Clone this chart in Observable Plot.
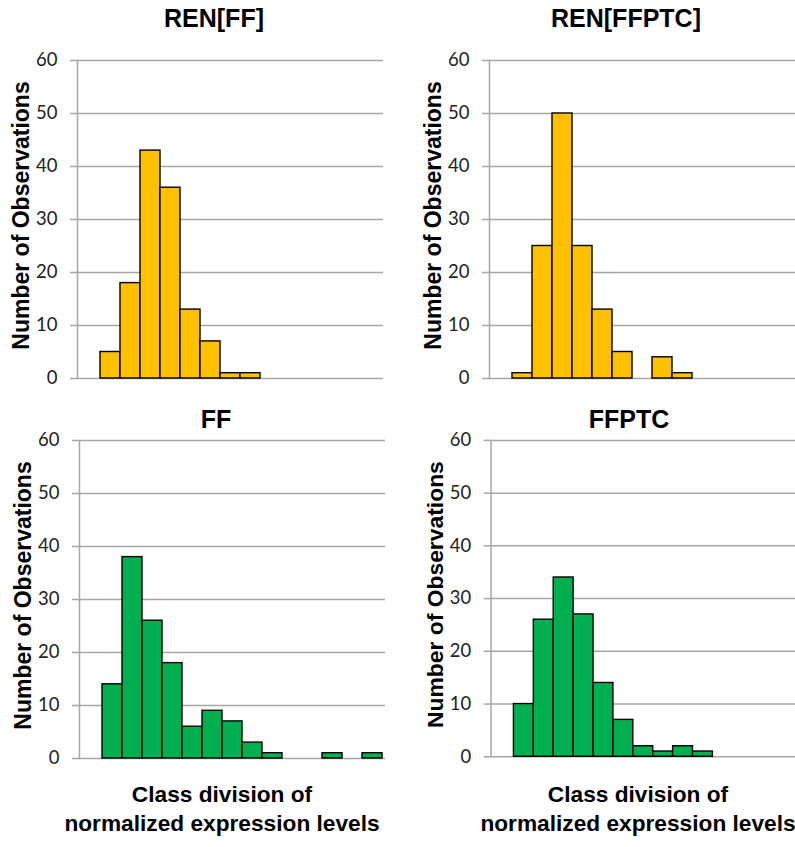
<!DOCTYPE html>
<html>
<head>
<meta charset="utf-8">
<script src="https://cdn.jsdelivr.net/npm/d3@7"></script>
<script src="https://cdn.jsdelivr.net/npm/@observablehq/plot@0.6"></script>
<style>
  html, body { margin: 0; padding: 0; background: #fff; }
  #root { position: relative; width: 795px; height: 847px; overflow: hidden; background: #fff; }
  .panel { position: absolute; }
  .title { position: absolute; font-family: "Liberation Sans", Arial, sans-serif; font-weight: bold; font-size: 25px; line-height: 25px; text-align: center; white-space: nowrap; color: #000; }
  .xlab { position: absolute; font-family: "Liberation Sans", Arial, sans-serif; font-weight: bold; font-size: 22.7px; line-height: 29px; text-align: center; white-space: nowrap; color: #000; }
</style>
</head>
<body>
<div id="root"></div>
<script>
// ---- data ----
const bins = [1, 2, 3, 4, 5, 6, 7, 8, 9, 10, 11, 12, 13, 14, 15];
const renFF    = [0, 5, 18, 43, 36, 13, 7, 1, 1, 0, 0, 0, 0, 0, 0];
const renFFPTC = [0, 1, 25, 50, 25, 13, 5, 0, 4, 1, 0, 0, 0, 0, 0];
const ff       = [0, 14, 38, 26, 18, 6, 9, 7, 3, 1, 0, 0, 1, 0, 1];
const ffptc    = [0, 10, 26, 34, 27, 14, 7, 2, 1, 2, 1, 0, 0, 0, 0];
const yTicks = [0, 10, 20, 30, 40, 50, 60];
const titles = ["REN[FF]", "REN[FFPTC]", "FF", "FFPTC"];
const yLabel = "Number of Observations";
const xLabel = ["Class division of", "normalized expression levels"];
const colors = { ren: "#FFC000", base: "#00B050" };

// ---- layout ----
const root = document.getElementById("root");
const panels = [
  { values: renFF,    color: colors.ren,  left: 0,   top: 40,  width: 400, ml: 77, mr: 17, title: titles[0], tx: 214, ty: 6 },
  { values: renFFPTC, color: colors.ren,  left: 400, top: 40,  width: 395, ml: 89, mr: 0,  title: titles[1], tx: 626, ty: 6 },
  { values: ff,       color: colors.base, left: 0,   top: 420, width: 400, ml: 79, mr: 15, title: titles[2], tx: 216, ty: 407, xl: 222 },
  { values: ffptc,    color: colors.base, left: 400, top: 420, width: 397, ml: 91, mr: 0,  title: titles[3], tx: 629, ty: 407, xl: 638 }
];

function panel(p) {
  const rows = bins.map((b, i) => ({ bin: b, count: p.values[i] }));
  return Plot.plot({
    width: p.width, height: 350,
    marginLeft: p.ml, marginRight: p.mr, marginTop: 20, marginBottom: 12,
    style: { background: "transparent", fontFamily: "Lato, 'Open Sans', sans-serif", fontSize: "18.5px", color: "#222", overflow: "visible" },
    x: { type: "band", domain: bins, padding: 0, axis: null },
    y: { domain: [0, 60], label: null, axis: null },
    marks: [
      Plot.gridY(yTicks, { stroke: "#a6a6a6", strokeOpacity: 1, strokeWidth: 1.5 }),
      Plot.axisY(yTicks, { tickSize: 7, tickPadding: 13, stroke: "#a6a6a6", strokeWidth: 1.5, label: null }),
      Plot.frame({ anchor: "left", stroke: "#a6a6a6", strokeWidth: 1.5 }),
      Plot.barY(rows, { filter: d => d.count > 0, x: "bin", y: "count", fill: p.color, stroke: "#000", strokeWidth: 1.4 }),
      Plot.text([yLabel], { frameAnchor: "left", rotate: -90, dx: -56, dy: -4, fontSize: 23, fontWeight: "bold", fontFamily: "Liberation Sans, Arial, sans-serif", fill: "#000", textAnchor: "middle", lineAnchor: "middle" })
    ]
  });
}

for (const p of panels) {
  const holder = document.createElement("div");
  holder.className = "panel";
  holder.style.left = p.left + "px";
  holder.style.top = p.top + "px";
  holder.appendChild(panel(p));
  root.appendChild(holder);

  const t = document.createElement("div");
  t.className = "title";
  t.textContent = p.title;
  t.style.left = (p.tx - 150) + "px";
  t.style.width = "300px";
  t.style.top = p.ty + "px";
  root.appendChild(t);

  if (p.xl) {
    const xl = document.createElement("div");
    xl.className = "xlab";
    xl.style.left = (p.xl - 200) + "px";
    xl.style.width = "400px";
    xl.style.top = "780px";
    xl.innerHTML = xLabel[0] + "<br>" + xLabel[1];
    root.appendChild(xl);
  }
}
</script>
</body>
</html>
